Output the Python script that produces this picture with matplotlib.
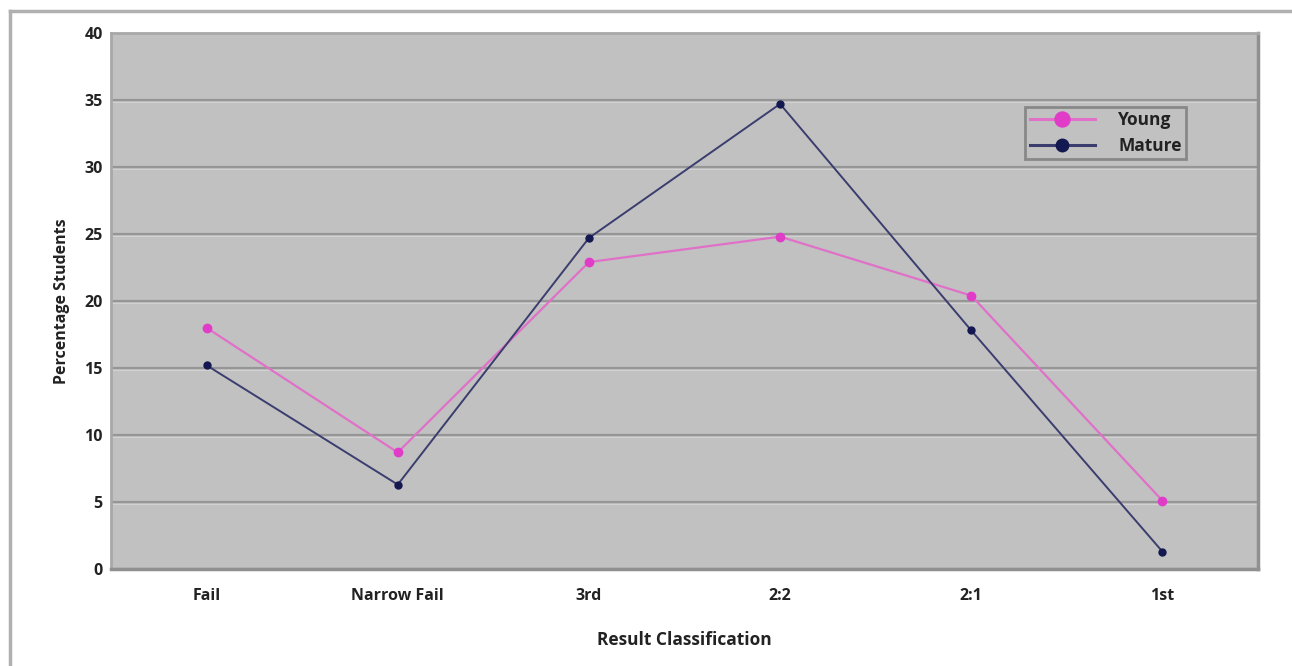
import matplotlib.pyplot as plt
from matplotlib.lines import Line2D

categories = ['Fail', 'Narrow Fail', '3rd', '2:2', '2:1', '1st']
young = [18.0, 8.7, 22.9, 24.8, 20.4, 5.1]
mature = [15.2, 6.3, 24.7, 34.7, 17.8, 1.3]

plt.rcParams['font.family'] = ['Open Sans', 'DejaVu Sans']
plt.rcParams['font.weight'] = 'bold'
plt.rcParams['axes.labelweight'] = 'bold'

fig = plt.figure(figsize=(12.92, 6.66), dpi=100)
ax = fig.add_axes([0.0859, 0.1456, 0.8878, 0.805])
ax.set_facecolor('#c1c1c1')

# outer frame (top and left only, rest runs off the page)
fig.add_artist(Line2D([10/1292, 10/1292], [0, 1 - 11/666], color='#b0b0b0', lw=2.5,
                      transform=fig.transFigure))
fig.add_artist(Line2D([10/1292, 1], [1 - 11/666, 1 - 11/666], color='#b0b0b0', lw=2.5,
                      transform=fig.transFigure))

x = range(len(categories))
ax.plot(x, young, color='#e070c8', lw=1.6, marker='o', ms=6,
        mfc='#e03cc8', mec='#e03cc8', label='Young', zorder=3)
ax.plot(x, mature, color='#3a3d6e', lw=1.4, marker='o', ms=5,
        mfc='#141850', mec='#141850', label='Mature', zorder=4)

ax.set_xlim(-0.5, len(categories) - 0.5)
ax.set_ylim(0, 40)
ax.set_yticks(range(0, 41, 5))
ax.set_xticks(list(x))
ax.set_xticklabels(categories)
ax.tick_params(axis='both', length=0, labelsize=11.5, colors='#222222')
ax.tick_params(axis='x', pad=14)
ax.tick_params(axis='y', pad=6)

ax.yaxis.grid(True, color='#969696', lw=1.6)
ax.set_axisbelow(True)
for y in range(5, 40, 5):
    ax.axhline(y - 0.12, color='#d2d2d2', lw=0.8, zorder=0.5)

for side in ['top', 'left']:
    ax.spines[side].set_color('#a8a8a8')
    ax.spines[side].set_linewidth(2)
for side in ['right', 'bottom']:
    ax.spines[side].set_color('#909090')
    ax.spines[side].set_linewidth(2.5)

ax.set_xlabel('Result Classification', fontsize=12.5, color='#222222', labelpad=19)
ax.set_ylabel('Percentage Students', fontsize=11.5, color='#222222', labelpad=10)

leg = ax.legend(loc='upper left', bbox_to_anchor=(0.797, 0.862), fontsize=12.5,
                frameon=True, fancybox=False, markerscale=1.8, handlelength=3.8,
                borderpad=0.25, labelspacing=0.45, handletextpad=1.3,
                borderaxespad=0)
leg.get_frame().set_facecolor('#c1c1c1')
leg.get_frame().set_edgecolor('#7a7a7a')
leg.get_frame().set_linewidth(2)
for ln in leg.get_lines():
    ln.set_linewidth(2.2)
for t in leg.get_texts():
    t.set_color('#222222')

fig.savefig('out.png', dpi=100)
